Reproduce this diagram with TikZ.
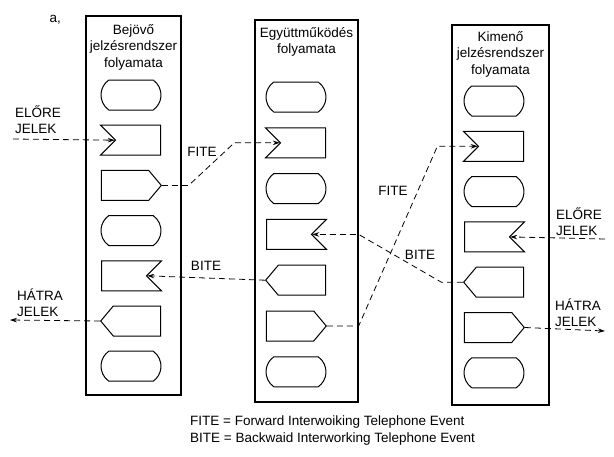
\documentclass[tikz,border=0pt]{standalone}
\usepackage{fontspec}
\setmainfont{Liberation Sans}
\usetikzlibrary{calc, shapes.misc, shapes.symbols, arrows.meta}

\begin{document}
\begin{tikzpicture}[x=1pt, y=-1pt, font=\fontsize{13.5}{16.5}\selectfont,
    colbox/.style={draw, line width=1.3pt, inner sep=0pt},
    title/.style={align=center, anchor=north, inner sep=0pt},
    sdl/.style={draw, line width=1pt, minimum width=60pt, minimum height=30pt, inner sep=0pt},
    terminal/.style={sdl, rounded rectangle, rounded rectangle arc length=110},
    recvL/.style={sdl, signal, signal to=nowhere, signal from=west, signal pointer angle=90, xshift=7pt},
    recvR/.style={sdl, signal, signal to=nowhere, signal from=east, signal pointer angle=90, xshift=-7pt},
    sendR/.style={sdl, signal, signal to=east, signal pointer angle=100, xshift=-6pt},
    sendL/.style={sdl, signal, signal to=west, signal pointer angle=100, xshift=6pt},
    link/.style={dash pattern=on 6pt off 4pt, line width=0.8pt},
    tip/.style={-{Stealth[length=7pt, width=4.5pt]}}]

    % Fix the page size
    \useasboundingbox (0,0) rectangle (614,456);

    \node[anchor=north west] (part) at (46,12) {a,};

    % Draw the three process columns
    \node[colbox, minimum width=95pt, minimum height=379pt] (col1) at (133.5,205.5) {};
    \node[colbox, minimum width=103pt, minimum height=382pt] (col2) at (306.5,211) {};
    \node[colbox, minimum width=97pt, minimum height=380pt] (col3) at (500.5,215) {};

    \node[title] (title1) at ([yshift=-9pt]col1.north) {Bejövő\\jelzésrendszer\\folyamata};
    \node[title] (title2) at ([yshift=-8pt]col2.north) {Együttműködés\\folyamata};
    \node[title] (title3) at ([yshift=-7pt]col3.north) {Kimenő\\jelzésrendszer\\folyamata};

    % Draw the SDL symbols of each column
    \foreach \c/\x/\y/\d/\seq in {
        1/131/95/45.2/{terminal,recvL,sendR,terminal,recvR,sendL,terminal},
        2/296/97/45.8/{terminal,recvL,terminal,recvR,sendL,sendR,terminal},
        3/494/101/45.3/{terminal,recvL,terminal,recvR,sendL,sendR,terminal}}
        \foreach \s [count=\i from 0] in \seq
            \node[style=\s] (c\c s\i) at (\x,\y+\d*\i) {};

    % Free ends of the outside signals
    \coordinate (inLeft) at (13,139);
    \coordinate (outLeft) at (10,320);
    \coordinate (inRight) at (605,239);
    \coordinate (outRight) at (605,331);

    % Outside signals
    \node[align=left, anchor=south west, inner sep=0pt] (eloreL) at (15,134) {ELŐRE\\JELEK};
    \node[align=left, anchor=south west, inner sep=0pt] (hatraL) at (17,317) {HÁTRA\\JELEK};
    \node[align=left, anchor=south west, inner sep=0pt] (eloreR) at (556,236) {ELŐRE\\JELEK};
    \node[align=left, anchor=south west, inner sep=0pt] (hatraR) at (555,327) {HÁTRA\\JELEK};

    \draw[link, tip] (inLeft) -- (c1s1.west);
    \draw[link, tip] (c1s5.west) -- (outLeft);
    \draw[link, tip] (inRight) -- (c3s3.east);
    \draw[link, tip] (c3s5.east) -- (outRight);

    % Interworking events
    \draw[link, tip] (c1s2.east) -- ([xshift=7pt]c1s2.east -| col1.east)
        -- ([xshift=-20pt]c2s1.west -| col2.west) -- (c2s1.west);
    \draw[link, tip] (c2s5.east) -- (c2s5.east -| col2.east)
        -- ([xshift=-14pt]c3s1.west -| col3.west) -- (c3s1.west);
    \draw[link, tip] (c2s4.west) -- (c1s4.east);
    \draw[link, tip] (c3s4.west) -- ([xshift=-10pt]c3s4.west -| col3.west)
        -- (c2s3.east -| col2.east) -- (c2s3.east);

    \node (fite1) at (202,152) {FITE};
    \node (bite1) at (206,266) {BITE};
    \node (fite2) at (393,191) {FITE};
    \node (bite2) at (420,255) {BITE};

    % Legend
    \node[align=left, anchor=north west, inner sep=0pt] (legend) at (190,416)
        {FITE = Forward Interwoiking Telephone Event\\BITE = Backwaid Interworking Telephone Event};
\end{tikzpicture}
\end{document}
